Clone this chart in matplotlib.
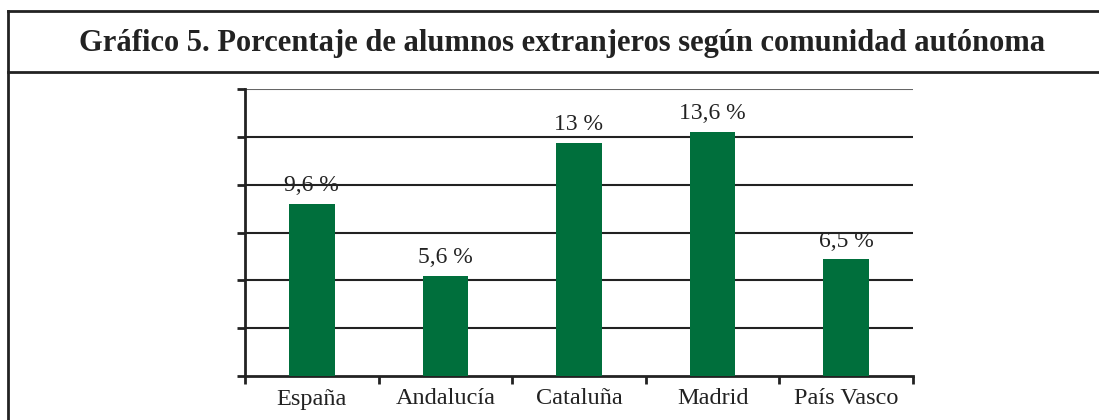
import numpy as np
import matplotlib.pyplot as plt

# datos
comunidades = ['España', 'Andalucía', 'Cataluña', 'Madrid', 'País Vasco']
porcentajes = [9.6, 5.6, 13.0, 13.6, 6.5]
etiquetas = ['9,6 %', '5,6 %', '13 %', '13,6 %', '6,5 %']
titulo = 'Gráfico 5. Porcentaje de alumnos extranjeros según comunidad autónoma'

verde = '#006F3C'
serif = ['Liberation Serif', 'DejaVu Serif']

fig = plt.figure(figsize=(10.99, 4.2), dpi=100)

# marco del recuadro y linea bajo el titulo
fig.add_artist(plt.Line2D([8/1099, 8/1099], [0, 1 - 11/420], color='#222222', lw=2))
fig.add_artist(plt.Line2D([8/1099, 1], [1 - 11/420, 1 - 11/420], color='#222222', lw=2))
fig.add_artist(plt.Line2D([8/1099, 1], [1 - 72/420, 1 - 72/420], color='#222222', lw=2))
fig.text(0.511, 1 - 43/420, titulo, ha='center', va='center', fontsize=22,
         fontweight='bold', family=serif, color='#222222')

ax = fig.add_axes([245/1099, 1 - 376/420, (913 - 245)/1099, (376 - 89)/420])
x = np.arange(len(comunidades))
ax.bar(x, porcentajes, width=0.34, color=verde, zorder=3)

for xi, v, t in zip(x, porcentajes, etiquetas):
    ax.text(xi, v + 0.7, t, ha='center', va='baseline', fontsize=17,
            family=serif, color='#222222')

ax.set_xlim(-0.5, len(comunidades) - 0.5)
ax.set_ylim(0, 16)
yt = np.linspace(0, 16, 7)
ax.set_yticks(yt)
ax.set_yticklabels([])
for y in yt[1:]:
    ax.axhline(y, color='#222222' if y < 16 else '#666666', lw=1.5, zorder=1)

ax.set_xticks(np.arange(len(comunidades) + 1) - 0.5)
ax.set_xticklabels([])
ax.set_xticks(x, minor=True)
ax.set_xticklabels(comunidades, minor=True, fontsize=17.5, family=serif, color='#222222')
ax.tick_params(axis='x', which='minor', length=0, pad=9)
ax.tick_params(axis='x', which='major', direction='out', length=6, width=2, color='#222222')
ax.tick_params(axis='y', direction='out', length=6, width=2, color='#222222')

for s in ['top', 'right']:
    ax.spines[s].set_visible(False)
for s in ['left', 'bottom']:
    ax.spines[s].set_linewidth(2)
    ax.spines[s].set_color('#222222')

plt.savefig('out.png', dpi=100)
